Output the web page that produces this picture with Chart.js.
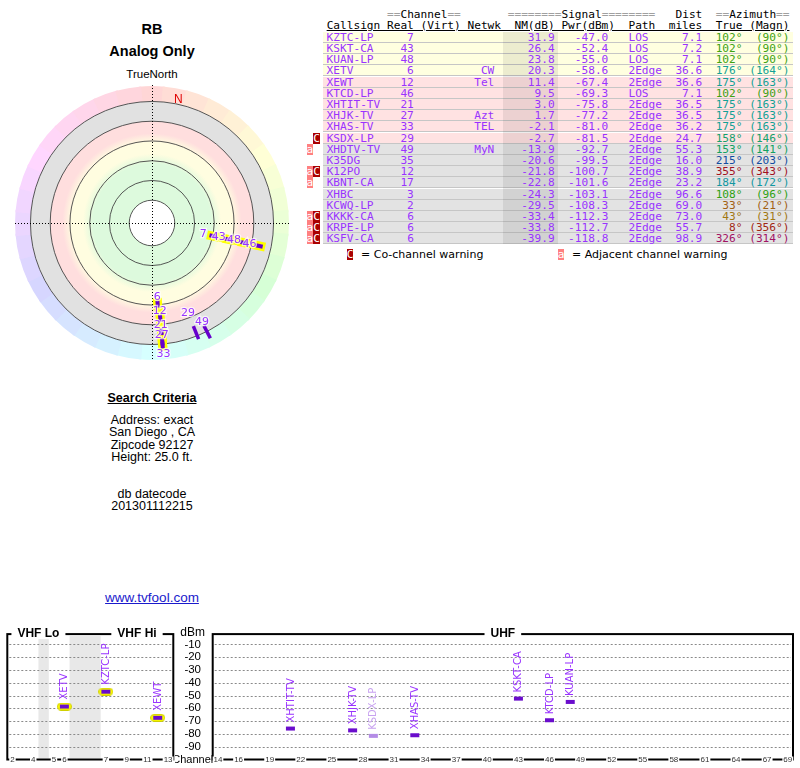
<!DOCTYPE html>
<html>
<head>
<meta charset="utf-8">
<title>RB - Analog Only</title>
<script src="https://cdn.jsdelivr.net/npm/chart.js@4.4.0/dist/chart.umd.min.js"></script>
<style>
  html, body { margin: 0; padding: 0; background: #fff; }
  body { position: relative; width: 800px; height: 768px; overflow: hidden; font-family: "Liberation Sans", Arial, sans-serif; color: #000; }
  .side { position: absolute; left: 0; width: 304px; text-align: center; }
  .big { font-weight: bold; font-size: 14.5px; line-height: 17px; }
  .crit { font-size: 12.5px; line-height: 12.4px; }
  canvas { position: absolute; }
  .mono { position: absolute; left: 306.5px; height: 11.2px; line-height: 11.2px; font-family: "DejaVu Sans Mono", monospace; font-size: 11.15px; white-space: pre; color: #9933ff; }
  .eq { color: #a0a0a0; }
  .rowbg { position: absolute; left: 322.7px; width: 470.3px; height: 10.2px; border-bottom: 1px solid #c6c6c6; }
  .nmshade { position: absolute; left: 503.3px; width: 55px; background: rgba(0,0,0,0.075); }
  .bA, .bC { display: inline-block; width: 6.72px; height: 11px; line-height: 11px; color: #fff; text-align: center; vertical-align: top; font-family: "DejaVu Sans Mono", monospace; font-size: 11.15px; }
  .bA { background: #ff8080; }
  .bC { background: #aa0000; }
  .legend { position: absolute; top: 249px; height: 12px; font-family: "DejaVu Sans", sans-serif; font-size: 11px; line-height: 12px; color: #000; white-space: nowrap; }
</style>
</head>
<body>
<div class="side big" style="top:20.5px">RB</div>
<div class="side big" style="top:42.5px">Analog Only</div>
<div class="side" style="top:67.5px;font-size:11.5px;line-height:13px">TrueNorth</div>

<div class="side" style="top:390.5px;font-size:12.5px;line-height:15px;font-weight:bold;text-decoration:underline">Search Criteria</div>
<div class="side crit" style="top:413.8px">Address: exact<br>San Diego , CA<br>Zipcode 92127<br>Height: 25.0 ft.</div>
<div class="side crit" style="top:487.8px">db datecode<br>201301112215</div>
<div class="side" style="top:590px;font-size:13.5px;line-height:16px;color:#1a1acc;text-decoration:underline">www.tvfool.com</div>

<div id="table"></div>
<div class="legend" style="left:346.7px"><span class="bC">C</span></div>
<div class="legend" style="left:361px">= Co-channel warning</div>
<div class="legend" style="left:557.7px"><span class="bA">a</span></div>
<div class="legend" style="left:572px">= Adjacent channel warning</div>

<canvas id="radar" width="304" height="306" style="left:0;top:70px;width:304px;height:306px"></canvas>
<canvas id="vhf" width="180" height="148" style="left:0;top:620px;width:180px;height:148px"></canvas>
<canvas id="uhf" width="625" height="148" style="left:175px;top:620px;width:625px;height:148px"></canvas>

<script>
// stations, in table order
const CALLSIGNS = ['KZTC-LP', 'KSKT-CA', 'KUAN-LP', 'XETV', 'XEWT', 'KTCD-LP', 'XHTIT-TV', 'XHJK-TV', 'XHAS-TV', 'KSDX-LP',
  'XHDTV-TV', 'K35DG', 'K12PO', 'KBNT-CA', 'XHBC', 'KCWQ-LP', 'KKKK-CA', 'KRPE-LP', 'KSFV-CA'];
const CHANNELS = [7, 43, 48, 6, 12, 46, 21, 27, 33, 29, 49, 35, 12, 17, 3, 2, 6, 6, 6];
const NETWORKS = ['', '', '', 'CW', 'Tel', '', '', 'Azt', 'TEL', '', 'MyN', '', '', '', '', '', '', '', ''];
const NM_DB = [31.9, 26.4, 23.8, 20.3, 11.4, 9.5, 3.0, 1.7, -2.1, -2.7, -13.9, -20.6, -21.8, -22.8, -24.3, -29.5, -33.4, -33.8, -39.9];
const PWR_DBM = [-47.0, -52.4, -55.0, -58.6, -67.4, -69.3, -75.8, -77.2, -81.0, -81.5, -92.7, -99.5, -100.7, -101.6, -103.1, -108.3, -112.3, -112.7, -118.8];
const PATHS = ['LOS', 'LOS', 'LOS', '2Edge', '2Edge', 'LOS', '2Edge', '2Edge', '2Edge', '2Edge', '2Edge', '2Edge', '2Edge', '2Edge', '2Edge', '2Edge', '2Edge', '2Edge', '2Edge'];
const DIST_MI = [7.1, 7.2, 7.1, 36.6, 36.6, 7.1, 36.5, 36.5, 36.2, 24.7, 55.3, 16.0, 38.9, 23.2, 96.6, 69.0, 73.0, 55.7, 98.9];
const AZ_TRUE = [102, 102, 102, 176, 175, 102, 175, 175, 175, 158, 153, 215, 355, 184, 108, 33, 43, 8, 326];
const AZ_MAGN = [90, 90, 90, 164, 163, 90, 163, 163, 163, 146, 141, 203, 343, 172, 96, 21, 31, 356, 314];
const WARN_ADJ = [0, 0, 0, 0, 0, 0, 0, 0, 0, 0, 1, 0, 1, 1, 0, 0, 1, 1, 1];
const WARN_CO = [0, 0, 0, 0, 0, 0, 0, 0, 0, 1, 0, 0, 1, 0, 0, 0, 1, 1, 1];

// radar rings (NM dB) and spectrum ticks
const RADAR_RINGS_NM = [56.7, 44.3, 31.9, 19.5, 7.1, -5.3];
const DBM_TICKS = [-10, -20, -30, -40, -50, -60, -70, -80, -90];
const VHF_TICKS = [2, 4, 5, 6, 7, 9, 11, 13];
const UHF_TICKS = [14, 16, 19, 22, 25, 28, 31, 34, 37, 40, 43, 46, 49, 52, 55, 58, 61, 64, 67, 69];

const ROW_YELLOW_NM = 15, ROW_PINK_NM = -5;
const RADAR_MIN_NM = -15, RADAR_GLOW_NM = -2.5, SPECTRUM_MIN_NM = -10;
const U_MAX = 86, NM_CENTER = 71;
const DECLINATION = AZ_TRUE[0] - AZ_MAGN[0];
const DEG = Math.PI / 180;

// ---------- table ----------
const rowColour = nm => nm >= ROW_YELLOW_NM ? '#ffffe0' : nm >= ROW_PINK_NM ? '#ffe2e2' : '#e3e3e3';
const azColour = az => `hsl(${az}, 80%, 35%)`;
const ROW_TOP = 31.7, ROW_H = 11.2;

let html = `<div class="mono" style="top:9.4px;color:#000">${' '.repeat(12)}<span class="eq">==</span>Channel<span class="eq">==</span>${' '.repeat(7)}<span class="eq">========</span>Signal<span class="eq">========</span>   Dist  <span class="eq">==</span>Azimuth<span class="eq">==</span></div>`;
html += `<div class="mono" style="top:19.7px;color:#000">   <u>Callsign Real (Virt) Netwk  NM(dB) Pwr(dBm)  Path  miles  True (Magn)</u></div>`;
CALLSIGNS.forEach((name, i) => {
  html += `<div class="rowbg" style="top:${ROW_TOP + i * ROW_H}px;background:${rowColour(NM_DB[i])}"></div>`;
});
html += `<div class="nmshade" style="top:${ROW_TOP}px;height:${CALLSIGNS.length * ROW_H}px"></div>`;
CALLSIGNS.forEach((name, i) => {
  const badges = (WARN_ADJ[i] ? '<span class="bA">a</span>' : ' ') + (WARN_CO[i] ? '<span class="bC">C</span>' : ' ') + ' ';
  const body = name.padEnd(8) + ' ' + String(CHANNELS[i]).padStart(4) + ' '.repeat(7) + NETWORKS[i].padStart(5)
    + NM_DB[i].toFixed(1).padStart(9) + PWR_DBM[i].toFixed(1).padStart(8) + '   ' + PATHS[i].padEnd(5)
    + DIST_MI[i].toFixed(1).padStart(6);
  const az = `<span style="color:${azColour(AZ_TRUE[i])}">${(AZ_TRUE[i] + '°').padStart(6)}${('(' + AZ_MAGN[i] + '°)').padStart(7)}</span>`;
  html += `<div class="mono" style="top:${ROW_TOP + i * ROW_H}px">${badges}${body}${az}</div>`;
});
document.getElementById('table').innerHTML = html;

// ---------- radar ----------
const rimU = NM_CENTER - RADAR_RINGS_NM[RADAR_RINGS_NM.length - 1];
const lastInGroup = {};
const radarMarks = CALLSIGNS.map((_, i) => i)
  .filter(i => NM_DB[i] > RADAR_MIN_NM)
  .sort((a, b) => NM_DB[b] - NM_DB[a])
  .map(i => {
    const az = AZ_TRUE[i];
    const group = Math.round(az / 4);
    const prev = lastInGroup[group];
    let u = NM_CENTER - NM_DB[i];
    if (prev !== undefined) u = Math.max(u, prev + 6 + 4 * Math.abs(Math.sin(az * DEG)));
    u = Math.min(u, rimU);
    lastInGroup[group] = u;
    return { x: u * Math.sin(az * DEG), y: u * Math.cos(az * DEG), az, group, ch: CHANNELS[i],
      glow: NM_DB[i] > RADAR_GLOW_NM, crowded: prev !== undefined && u - prev < 6 };
  });
const glowMarks = radarMarks.filter(m => m.glow);
// one yellow band per azimuth group, broken by null points
const glowBand = [];
[...new Set(glowMarks.map(m => m.group))].forEach(g => {
  glowMarks.filter(m => m.group === g).forEach(m => glowBand.push({ x: m.x, y: m.y }));
  glowBand.push({ x: null, y: null });
});
const markRadius = m => m.glow ? 3.5 : 7;

const radarBackdrop = {
  id: 'radarBackdrop',
  beforeDatasetsDraw(chart) {
    const { ctx, chartArea: a, scales: { x, y } } = chart;
    const cx = x.getPixelForValue(0), cy = y.getPixelForValue(0);
    const k = x.getPixelForValue(1) - cx;
    const ringPx = RADAR_RINGS_NM.map(v => (NM_CENTER - v) * k);
    const rim = ringPx[ringPx.length - 1], outer = U_MAX * k;
    ctx.save();
    for (let az = 0; az < 360; az += 10) {
      ctx.beginPath();
      ctx.arc(cx, cy, outer, (az - 95.5) * DEG, (az - 84.5) * DEG);
      ctx.arc(cx, cy, rim, (az - 84.5) * DEG, (az - 95.5) * DEG, true);
      ctx.closePath();
      ctx.fillStyle = `hsl(${az}, 100%, 92%)`;
      ctx.fill();
    }
    ctx.fillStyle = '#e1e1e1';
    ctx.beginPath(); ctx.arc(cx, cy, rim, 0, 2 * Math.PI); ctx.fill();
    const inner = ringPx[ringPx.length - 2];
    const grad = ctx.createRadialGradient(cx, cy, 0, cx, cy, inner);
    grad.addColorStop(0, '#ddfadd');
    grad.addColorStop(0.58, '#ddfadd');
    grad.addColorStop(0.68, '#fffde0');
    grad.addColorStop(0.79, '#fffde0');
    grad.addColorStop(0.88, '#ffdede');
    grad.addColorStop(1, '#ffdede');
    ctx.fillStyle = grad;
    ctx.beginPath(); ctx.arc(cx, cy, inner, 0, 2 * Math.PI); ctx.fill();
    ctx.fillStyle = '#fff';
    ctx.beginPath(); ctx.arc(cx, cy, ringPx[0], 0, 2 * Math.PI); ctx.fill();
    ctx.strokeStyle = '#444';
    ctx.lineWidth = 0.9;
    ringPx.forEach(r => { ctx.beginPath(); ctx.arc(cx, cy, r, 0, 2 * Math.PI); ctx.stroke(); });
    ctx.strokeStyle = '#000';
    ctx.lineWidth = 1;
    ctx.setLineDash([1, 2]);
    ctx.beginPath();
    ctx.moveTo(a.left, Math.round(cy) + 0.5); ctx.lineTo(a.right, Math.round(cy) + 0.5);
    ctx.moveTo(Math.round(cx) + 0.5, a.top); ctx.lineTo(Math.round(cx) + 0.5, a.bottom);
    ctx.stroke();
    ctx.setLineDash([]);
    ctx.fillStyle = '#e00000';
    ctx.font = '12px "Liberation Sans"';
    ctx.textAlign = 'center';
    ctx.textBaseline = 'middle';
    const nr = rim + 5;
    ctx.fillText('N', cx + nr * Math.sin(DECLINATION * DEG), cy - nr * Math.cos(DECLINATION * DEG));
    ctx.restore();
  },
  afterDatasetsDraw(chart) {
    const { ctx } = chart;
    const meta = chart.getDatasetMeta(0);
    const marks = chart.data.datasets[0].data;
    ctx.save();
    ctx.font = '11px "DejaVu Sans"';
    ctx.textAlign = 'center';
    ctx.textBaseline = 'middle';
    const placed = [];
    // weakest first, so stronger labels give way inward
    meta.data.map((pt, j) => ({ pt, m: marks[j] })).reverse().forEach(({ pt, m }) => {
      const sx = Math.sin(m.az * DEG), cy = Math.cos(m.az * DEG);
      const text = String(m.ch);
      const w = ctx.measureText(text).width + 1;
      let off = m.crowded ? 9 : -(markRadius(m) + 3 + 3.5 * Math.abs(sx));
      let lx, ly;
      for (let step = 0; step < 8; step++) {
        lx = pt.x + sx * off; ly = pt.y - cy * off;
        const hit = placed.some(p => Math.abs(p.x - lx) < (p.w + w) / 2 && Math.abs(p.y - ly) < 8);
        if (!hit) break;
        off += m.crowded ? 2 : -2;
      }
      placed.push({ x: lx, y: ly, w });
      ctx.lineWidth = 2.5;
      ctx.strokeStyle = 'rgba(255,255,255,0.7)';
      ctx.strokeText(text, lx, ly);
      ctx.fillStyle = '#9933ff';
      ctx.fillText(text, lx, ly);
    });
    ctx.restore();
  }
};

const hiddenAxis = { type: 'linear', min: -U_MAX, max: U_MAX, display: false };
new Chart(document.getElementById('radar'), {
  type: 'scatter',
  data: {
    datasets: [
      { data: radarMarks, pointStyle: 'line', pointRotation: radarMarks.map(m => m.az - 90),
        pointRadius: radarMarks.map(markRadius), pointBorderWidth: radarMarks.map(m => m.glow ? 4 : 3.5),
        pointBorderColor: '#6600cc', pointBackgroundColor: '#6600cc' },
      { data: glowMarks, pointStyle: 'line', pointRotation: glowMarks.map(m => m.az - 90),
        pointRadius: 6, pointBorderWidth: 9, pointBorderColor: '#ffff00', pointBackgroundColor: '#ffff00' },
      { data: glowBand, showLine: true, spanGaps: false, pointRadius: 0, borderWidth: 8,
        borderColor: '#ffff00', borderCapStyle: 'round', borderJoinStyle: 'round' }
    ]
  },
  options: {
    responsive: false, animation: false, events: [],
    layout: { padding: { left: 7.5, right: 7.5, top: 8.2, bottom: 8.8 } },
    scales: { x: hiddenAxis, y: hiddenAxis },
    plugins: { legend: { display: false }, tooltip: { enabled: false } }
  },
  plugins: [radarBackdrop]
});

// ---------- spectrum ----------
function makeMark(fill, glow) {
  const c = document.createElement('canvas');
  c.width = 15; c.height = 8;
  const g = c.getContext('2d');
  if (glow) {
    g.fillStyle = '#ffff00';
    g.strokeStyle = '#d0d000';
    g.beginPath();
    g.moveTo(4, 0.5); g.lineTo(11, 0.5); g.arc(11, 4, 3.5, -Math.PI / 2, Math.PI / 2);
    g.lineTo(4, 7.5); g.arc(4, 4, 3.5, Math.PI / 2, 3 * Math.PI / 2);
    g.closePath(); g.fill(); g.stroke();
  }
  g.fillStyle = fill;
  g.fillRect(3, 2, 9, 4);
  return c;
}
const markGlow = makeMark('#6a0dcc', true);
const markPlain = makeMark('#6a0dcc', false);
const markWeak = makeMark('#b48ce6', false);

// VHF slots: ch2-4, gap, ch5-6, gap, ch7-13
const vhfSlot = ch => ch <= 4 ? ch - 1.5 : ch <= 6 ? ch - 0.5 : ch + 2.5;

function spectrumData(list, toX) {
  return list.map(i => ({ x: toX(CHANNELS[i]), y: PWR_DBM[i], name: CALLSIGNS[i], weak: !!WARN_CO[i], vhf: CHANNELS[i] <= 13 }));
}
const shown = CALLSIGNS.map((_, i) => i).filter(i => NM_DB[i] > SPECTRUM_MIN_NM);
const vhfData = spectrumData(shown.filter(i => CHANNELS[i] <= 13), vhfSlot);
const uhfData = spectrumData(shown.filter(i => CHANNELS[i] >= 14), ch => ch);

const spectrumFrame = {
  id: 'spectrumFrame',
  beforeDatasetsDraw(chart, args, opts) {
    const { ctx, chartArea: a, scales: { x, y } } = chart;
    ctx.save();
    ctx.fillStyle = '#e8e8e8';
    (opts.gaps || []).forEach(([g0, g1]) => {
      const x0 = x.getPixelForValue(g0), x1 = x.getPixelForValue(g1);
      ctx.fillRect(x0, a.top + 2, x1 - x0, a.bottom - a.top - 3);
    });
    ctx.strokeStyle = '#8a8a8a';
    ctx.lineWidth = 1;
    ctx.setLineDash([2, 2]);
    DBM_TICKS.forEach(v => {
      const py = Math.round(y.getPixelForValue(v)) + 0.5;
      ctx.beginPath(); ctx.moveTo(a.left + 2, py); ctx.lineTo(a.right - 2, py); ctx.stroke();
    });
    ctx.setLineDash([]);
    ctx.strokeStyle = '#000';
    ctx.lineWidth = 2;
    ctx.strokeRect(a.left, a.top, a.right - a.left, a.bottom - a.top);

    ctx.textAlign = 'center';
    ctx.textBaseline = 'middle';
    ctx.font = 'bold 12px "Liberation Sans"';
    opts.titles.forEach(t => {
      const tx = (x.getPixelForValue(t.from) + x.getPixelForValue(t.to)) / 2;
      const w = ctx.measureText(t.text).width + 12;
      ctx.fillStyle = '#fff';
      ctx.fillRect(tx - w / 2, a.top - 5, w, 10);
      ctx.fillStyle = '#000';
      ctx.fillText(t.text, tx, a.top);
    });
    ctx.font = '8px "Liberation Sans"';
    opts.ticks.forEach(t => {
      const tx = x.getPixelForValue(t.x);
      const w = ctx.measureText(t.label).width + 2;
      ctx.fillStyle = '#fff';
      ctx.fillRect(tx - w / 2, a.bottom - 3, w, 6);
      ctx.fillStyle = '#333';
      ctx.fillText(t.label, tx, a.bottom + 0.5);
    });
    if (opts.dbmAxis) {
      const ax = a.left - 20;
      ctx.fillStyle = '#000';
      ctx.font = '12px "Liberation Sans"';
      ctx.fillText('dBm', ax, a.top - 1);
      ctx.font = '11.5px "Liberation Sans"';
      DBM_TICKS.forEach(v => ctx.fillText(String(v), ax, y.getPixelForValue(v)));
      ctx.font = '11px "Liberation Sans"';
      ctx.fillText('Channel', ax, a.bottom);
    }
    ctx.restore();
  },
  afterDatasetsDraw(chart) {
    const { ctx } = chart;
    const meta = chart.getDatasetMeta(0);
    ctx.save();
    ctx.font = '10px "DejaVu Sans"';
    ctx.textAlign = 'left';
    ctx.textBaseline = 'middle';
    meta.data.forEach((pt, j) => {
      const d = chart.data.datasets[0].data[j];
      ctx.save();
      ctx.translate(pt.x, pt.y - (d.vhf ? 7 : 6));
      ctx.rotate(-Math.PI / 2);
      ctx.fillStyle = d.weak ? '#c8a2f0' : '#9933ff';
      ctx.fillText(d.name, 0, 0.5);
      ctx.restore();
    });
    ctx.restore();
  }
};

function spectrumChart(id, data, xMin, xMax, padding, frame) {
  return new Chart(document.getElementById(id), {
    type: 'scatter',
    data: {
      datasets: [{
        data,
        pointStyle: data.map(d => d.weak ? markWeak : d.vhf ? markGlow : markPlain),
        pointRadius: 5
      }]
    },
    options: {
      responsive: false, animation: false, events: [],
      layout: { padding },
      scales: {
        x: { type: 'linear', min: xMin, max: xMax, display: false },
        y: { type: 'linear', min: -100, max: -2, display: false }
      },
      plugins: { legend: { display: false }, tooltip: { enabled: false }, spectrumFrame: frame }
    },
    plugins: [spectrumFrame]
  });
}

spectrumChart('vhf', vhfData, 0, 16, { left: 7.3, right: 6.7, top: 14.1, bottom: 8.5 }, {
  gaps: [[vhfSlot(4) + 0.5, vhfSlot(5) - 0.5], [vhfSlot(6) + 0.5, vhfSlot(7) - 0.5]],
  titles: [{ text: 'VHF Lo', from: 0, to: vhfSlot(6) + 0.5 }, { text: 'VHF Hi', from: vhfSlot(7) - 0.5, to: 16 }],
  ticks: VHF_TICKS.map(ch => ({ label: String(ch), x: vhfSlot(ch) }))
});
spectrumChart('uhf', uhfData, 13.5, 69.5, { left: 37.7, right: 7, top: 14.1, bottom: 8.5 }, {
  titles: [{ text: 'UHF', from: 13.5, to: 69.5 }],
  ticks: UHF_TICKS.map(ch => ({ label: String(ch), x: ch })),
  dbmAxis: true
});
</script>
</body>
</html>
